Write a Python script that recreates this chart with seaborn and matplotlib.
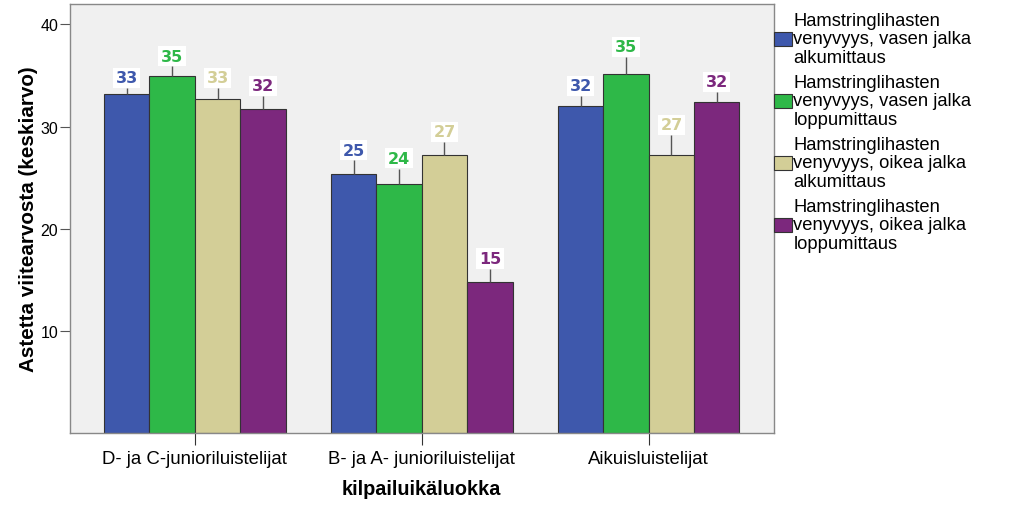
import pandas as pd
import matplotlib.pyplot as plt
import seaborn as sns

groups = ["D- ja C-junioriluistelijat", "B- ja A- junioriluistelijat", "Aikuisluistelijat"]
series = [
    "Hamstringlihasten\nvenyvyys, vasen jalka\nalkumittaus",
    "Hamstringlihasten\nvenyvyys, vasen jalka\nloppumittaus",
    "Hamstringlihasten\nvenyvyys, oikea jalka\nalkumittaus",
    "Hamstringlihasten\nvenyvyys, oikea jalka\nloppumittaus",
]
vasen_alku = [33.2, 25.4, 32.0]
vasen_loppu = [35.0, 24.4, 35.2]
oikea_alku = [32.7, 27.2, 27.2]
oikea_loppu = [31.7, 14.8, 32.4]
# upper ends of the error bars
vasen_alku_ylä = [33.8, 26.7, 33.0]
vasen_loppu_ylä = [35.9, 25.9, 36.8]
oikea_alku_ylä = [33.8, 28.5, 29.2]
oikea_loppu_ylä = [33.0, 16.1, 33.4]
colors = ["#3e58ac", "#2eb848", "#d3ce97", "#7c287d"]

means = [vasen_alku, vasen_loppu, oikea_alku, oikea_loppu]
uppers = [vasen_alku_ylä, vasen_loppu_ylä, oikea_alku_ylä, oikea_loppu_ylä]

df = pd.DataFrame({
    "ryhmä": groups * len(series),
    "sarja": [s for s in series for _ in groups],
    "arvo": [v for m in means for v in m],
})

sns.set_style("white")
plt.rcParams["font.family"] = ["Liberation Sans", "DejaVu Sans"]
plt.rcParams["text.color"] = "black"
plt.rcParams["axes.labelcolor"] = "black"
plt.rcParams["xtick.color"] = "black"
plt.rcParams["ytick.color"] = "black"

fig = plt.figure(figsize=(10.24, 5.06), dpi=100)
ax = fig.add_axes([0.0684, 0.142, 0.687, 0.848])
ax.set_facecolor("#f0f0f0")

sns.barplot(data=df, x="ryhmä", y="arvo", hue="sarja", order=groups, hue_order=series,
            palette=colors, errorbar=None, width=0.8, edgecolor="#333333", linewidth=0.8,
            saturation=1, ax=ax)

for cont, up, col in zip(ax.containers, uppers, colors):
    for bar, u in zip(cont, up):
        xc = bar.get_x() + bar.get_width() / 2
        top = bar.get_height()
        ax.vlines(xc, top, u, color="#555555", linewidth=1, zorder=3)
        ax.text(xc, u + 1.0, f"{round(top):d}", ha="center", va="center",
                color=col, fontsize=11.5, fontweight="bold", family="DejaVu Sans",
                bbox=dict(facecolor="white", edgecolor="none", pad=1.8), zorder=4)

ax.set_xlim(-0.55, 2.55)
ax.set_ylim(0, 42)
ax.set_yticks([10, 20, 30, 40])
ax.tick_params(axis="y", direction="out", length=7, width=0.8, color="#555555",
               labelsize=11.5, left=True, pad=1.5)
ax.tick_params(axis="x", direction="out", length=8.5, width=0.8, color="#333333",
               labelsize=13.4, bottom=True, pad=3.5)
for sp in ax.spines.values():
    sp.set_color("#888888")
    sp.set_linewidth(1)

ax.set_xlabel("kilpailuikäluokka", fontsize=14.3, fontweight="bold", labelpad=9)
ax.set_ylabel("Astetta viitearvosta (keskiarvo)", fontsize=14.9, fontweight="bold", labelpad=2)

handles, labels = ax.get_legend_handles_labels()
leg = fig.legend(handles, labels, loc="upper left", bbox_to_anchor=(0.756, 0.975),
                 frameon=False, fontsize=13.2, handlelength=0.95, handleheight=0.85,
                 handletextpad=0.1, labelspacing=0.4, borderpad=0, borderaxespad=0)
plt.setp(leg.get_texts(), linespacing=1.14)
ax.get_legend().remove()

fig.savefig("out.png", dpi=100)
